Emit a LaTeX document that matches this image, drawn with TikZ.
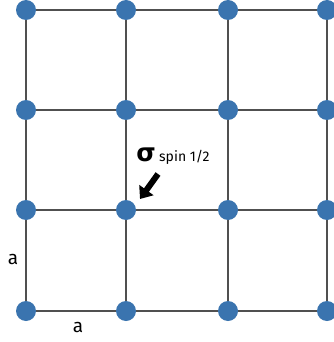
\documentclass[tikz,border=0pt]{standalone}
\usepackage{fontspec}
\setmainfont{Fira Sans}
\newfontfamily\symfont{DejaVu Sans}
\usetikzlibrary{arrows.meta}
\definecolor{dotblue}{HTML}{3A74AF}
\definecolor{gridgray}{HTML}{505050}
\tikzset{
  site/.style={circle,fill=dotblue,inner sep=0pt,minimum size=20pt},
  bond/.style={draw=gridgray,line width=1.6pt},
  lbl/.style={inner sep=0pt,font=\fontsize{19pt}{19pt}\selectfont},
  spinarrow/.style={line width=6pt,-{Triangle[length=11pt,width=17pt]},draw=black,fill=black}
}
\begin{document}
\begin{tikzpicture}[x=1pt,y=-1pt]
\useasboundingbox (0,0) rectangle (333,342);
\fill[white] (0,0) rectangle (333,342);
% bonds drawn first
\foreach \y in {10,110,210,311}{
  \draw[bond] (26,\y) -- (327,\y);
}
\foreach \x in {26,126,228,327}{
  \draw[bond] (\x,10) -- (\x,311);
}
% sites
\foreach \x/\i in {26/1,126/2,228/3,327/4}{
  \foreach \y/\j in {10/1,110/2,210/3,311/4}{
    \node[site] (s\i\j) at (\x,\y) {};
  }
}
% labels
\node[lbl] (av) at (13,259) {a};
\node[lbl] (ah) at (78,327) {a};
\node[inner sep=0pt,font=\symfont\bfseries\fontsize{25pt}{25pt}\selectfont] (sig) at (146,155) {σ};
\node[inner sep=0pt,anchor=west,font=\fontsize{14pt}{14pt}\selectfont] (spin) at (159,157) {spin 1/2};
% arrow
\coordinate (tail) at (158,174);
\coordinate (tip) at (140,199);
\draw[spinarrow] (tail) -- (tip);
\end{tikzpicture}
\end{document}
